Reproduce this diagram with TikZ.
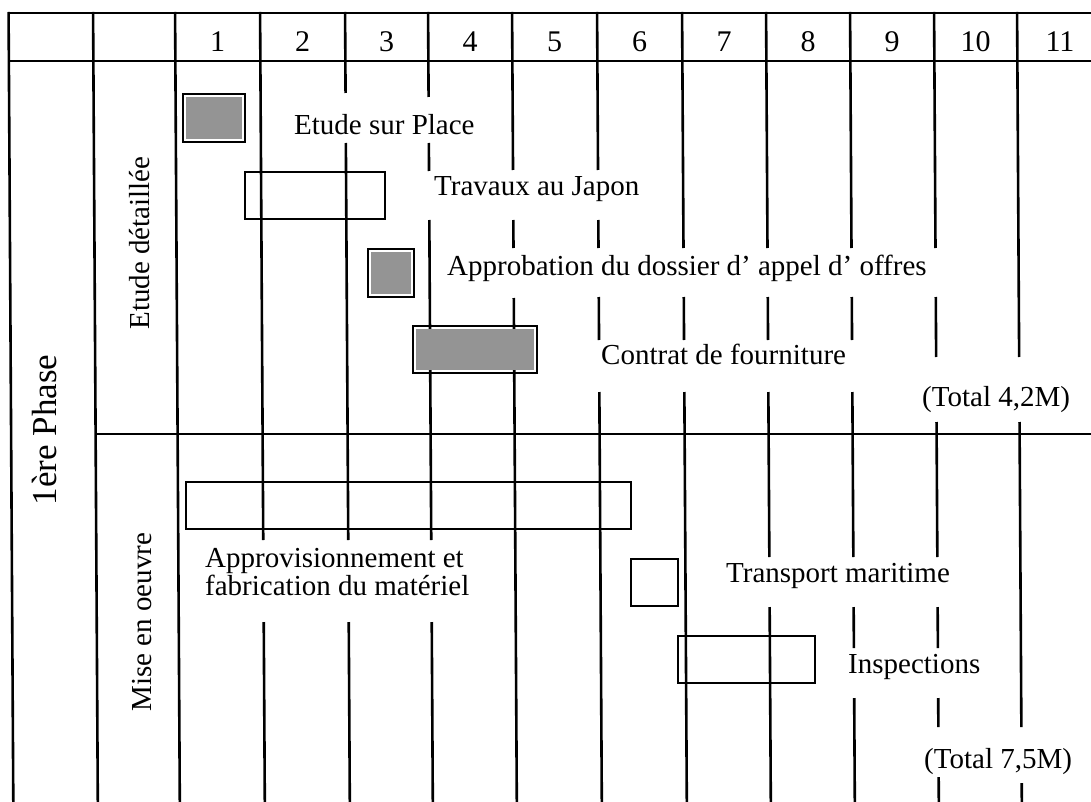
\documentclass[tikz,border=0pt]{standalone}
\usepackage{fontspec}
\setmainfont{Liberation Serif}
\begin{document}
\begin{tikzpicture}[x=1pt,y=-1pt,
  gridline/.style={line width=2.6pt},
  bar/.style={draw=black,line width=1.6pt},
  shade/.style={fill=black!42},
  lbl/.style={anchor=base west,inner sep=0pt,font=\fontsize{29}{32}\selectfont},
  num/.style={anchor=base,inner sep=0pt,font=\fontsize{30}{32}\selectfont},
  side/.style={anchor=base,inner sep=0pt,rotate=90,font=\fontsize{29}{32}\selectfont}]
\useasboundingbox (0,0) rectangle (1091,802);
\fill[white] (0,0) rectangle (1091,802);
% grid (slightly sheared like the scan)
\begin{scope}[xslant=-0.006]
  \draw[gridline] (8.5,13) -- (1100,13);
  \draw[gridline] (8.5,61) -- (1100,61);
  \draw[gridline] (93,434) -- (1100,434);
  \foreach \x/\a/\b in {
    8.5/12/805, 93/12/805, 175/12/805,
    260/12/540, 260/622/805,
    345/12/93, 345/143/540, 345/622/805,
    428/12/97, 428/143/171, 428/220/540, 428/622/805,
    512/12/170, 512/220/248, 512/298/805,
    597/12/170, 597/220/248, 597/297/340, 597/392/805,
    682/12/248, 682/297/340, 682/392/805,
    766/12/248, 766/297/340, 766/392/557, 766/607/805,
    850/12/248, 850/297/340, 850/392/557, 850/607/648, 850/698/805,
    934/12/248, 934/297/357, 934/422/557, 934/607/648, 934/698/727, 934/777/805,
    1017/12/357, 1017/422/727, 1017/783/805}
    \draw[gridline] (\x,\a) -- (\x,\b);
\end{scope}
% header numbers
\foreach \n/\x in {1/217.5,2/302.5,3/386.5,4/470,5/554.5,6/639.5,7/724,8/808,9/892,10/975.5,11/1060}
  \node[num] (h\n) at (\x,52) {\n};
% side labels
\node[side,font=\fontsize{35}{40}\selectfont] (phase) at (56,430) {1ère Phase};
\node[side] (etude) at (149,243) {Etude détaillée};
\node[side] (mise) at (151,622) {Mise en oeuvre};
% bars
\draw[bar] (183,94) rectangle (245,142);
\fill[shade] (186,97) rectangle (242,139);
\draw[bar] (245,172) rectangle (385,219);
\draw[bar] (368,249) rectangle (414,297);
\fill[shade] (371,252) rectangle (411,294);
\draw[bar] (413,326) rectangle (537,373);
\fill[shade] (416,329) rectangle (534,370);
\draw[bar] (186,482) rectangle (631,529);
\draw[bar] (631,559) rectangle (678,606);
\draw[bar] (678,636) rectangle (815,683);
% labels
\node[lbl] (t1) at (294,135) {Etude sur Place};
\node[lbl] (t2) at (434,196) {Travaux au Japon};
\node[lbl] (t3) at (447,275) {Approbation du dossier d’ appel d’ offres};
\node[lbl] (t4) at (601,364) {Contrat de fourniture};
\node[lbl] (t5) at (922,406) {(Total 4,2M)};
\node[lbl] (t6) at (205,567) {Approvisionnement et};
\node[lbl] (t7) at (205,595) {fabrication du matériel};
\node[lbl] (t8) at (726,582) {Transport maritime};
\node[lbl] (t9) at (848,673) {Inspections};
\node[lbl] (t10) at (924,768) {(Total 7,5M)};
\end{tikzpicture}
\end{document}
